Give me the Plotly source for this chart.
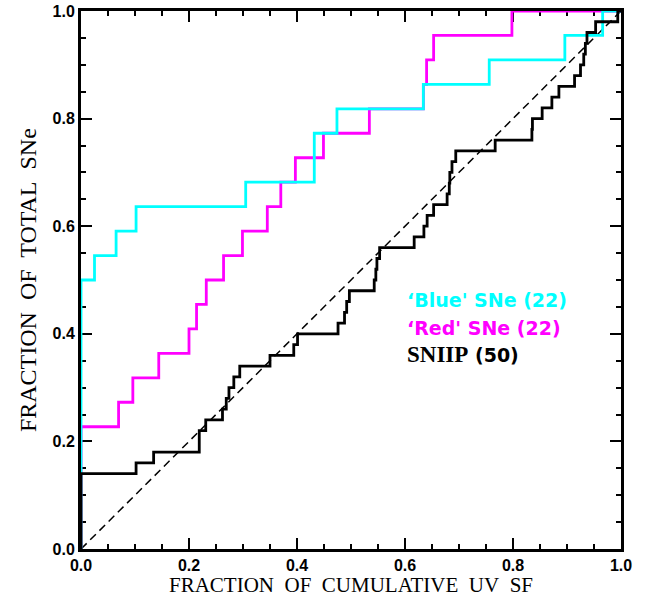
import plotly.graph_objects as go

# sorted sample positions (fraction of cumulative UV SF) for each SN group
blue_x = [0, 0, 0, 0, 0, 0, 0, 0, 0, 0, 0,
          0.025, 0.065, 0.102, 0.305, 0.432, 0.432, 0.474, 0.634, 0.756, 0.896, 0.966]
red_x = [0, 0, 0, 0, 0,
         0.0696, 0.096, 0.144, 0.200, 0.214, 0.232, 0.264, 0.299, 0.345, 0.370,
         0.397, 0.449, 0.534, 0.634, 0.640, 0.653, 0.798]
sniip_x = [0, 0, 0, 0, 0, 0, 0,
           0.102, 0.1345, 0.219, 0.219, 0.231, 0.262, 0.269, 0.274, 0.283, 0.294,
           0.350, 0.394, 0.401, 0.476, 0.488, 0.492, 0.497, 0.543, 0.546, 0.548,
           0.553, 0.617, 0.635, 0.641, 0.653, 0.678, 0.682, 0.683, 0.687, 0.694,
           0.767, 0.835, 0.836, 0.854, 0.872, 0.885, 0.914, 0.925, 0.931, 0.934,
           0.937, 0.953, 0.994]

labels = ["\u2018Blue' SNe (22)", "\u2018Red' SNe (22)", "SNIIP (50)"]
colors = ["#00FFFF", "#FF00FF", "#000000"]
tick_vals = [0.0, 0.2, 0.4, 0.6, 0.8, 1.0]
tick_text = ["0.0", "0.2", "0.4", "0.6", "0.8", "1.0"]
x_title = "FRACTION\u00a0 OF\u00a0 CUMULATIVE\u00a0 UV\u00a0 SF"
y_title = "FRACTION\u00a0 OF\u00a0 TOTAL\u00a0 SNe"


def ecdf(xs):
    n = len(xs)
    x = [0.0] + list(xs) + [1.0]
    y = [0.0] + [(i + 1) / n for i in range(n)] + [1.0]
    return x, y


fig = go.Figure()

fig.add_trace(go.Scatter(x=[0, 1], y=[0, 1], mode="lines",
                         line=dict(color="black", width=1.5, dash="8px,5px"),
                         showlegend=False, hoverinfo="skip"))

for xs, col in [(red_x, colors[1]), (blue_x, colors[0]), (sniip_x, colors[2])]:
    x, y = ecdf(xs)
    fig.add_trace(go.Scatter(x=x, y=y, mode="lines", line_shape="hv",
                             line=dict(color=col, width=2.8),
                             showlegend=False, cliponaxis=False))

leg_y = [0.463, 0.411, 0.361]
for txt, col, yy in zip(labels, colors, leg_y):
    if txt.startswith("SNIIP"):
        txt = ("<span style='font-family:Liberation Serif;font-size:23px'>SNIIP</span>"
               " (50)")
    fig.add_annotation(x=0.600, y=yy, xref="x", yref="y", text=txt,
                       showarrow=False, xanchor="left", yanchor="middle",
                       font=dict(family="DejaVu Sans", size=19, color=col,
                                 weight="bold"))

# axis titles
fig.add_annotation(x=0.5, y=-0.067, xref="paper", yref="paper", text=x_title,
                   showarrow=False, xanchor="center", yanchor="middle",
                   font=dict(family="Liberation Serif", size=21, color="black"))
fig.add_annotation(x=-0.098, y=0.5, xref="paper", yref="paper", text=y_title,
                   showarrow=False, xanchor="center", yanchor="middle", textangle=-90,
                   font=dict(family="Liberation Serif", size=24, color="black"))

axis_common = dict(
    range=[0, 1], showgrid=False, zeroline=False, automargin=False,
    showline=True, linecolor="black", linewidth=3, mirror="ticks",
    ticks="inside", ticklen=11, tickwidth=2, tickcolor="black",
    tickvals=tick_vals, ticktext=tick_text, ticklabeloverflow="allow",
    minor=dict(ticks="inside", ticklen=5, tickwidth=2, dtick=0.05, tickcolor="black",
               showgrid=False),
    tickfont=dict(family="Liberation Sans", size=16, color="black", weight="bold"),
    layer="below traces",
)

fig.update_xaxes(**axis_common)
fig.update_yaxes(**axis_common)

fig.update_layout(
    width=652, height=603,
    margin=dict(l=81, r=31, t=11, b=54, autoexpand=False),
    paper_bgcolor="white", plot_bgcolor="white",
    showlegend=False,
)

fig.write_html("out.html",
               config={"displayModeBar": False, "staticPlot": True},
               post_script="document.body.style.margin='0';"
                           "document.body.style.overflow='hidden';")
